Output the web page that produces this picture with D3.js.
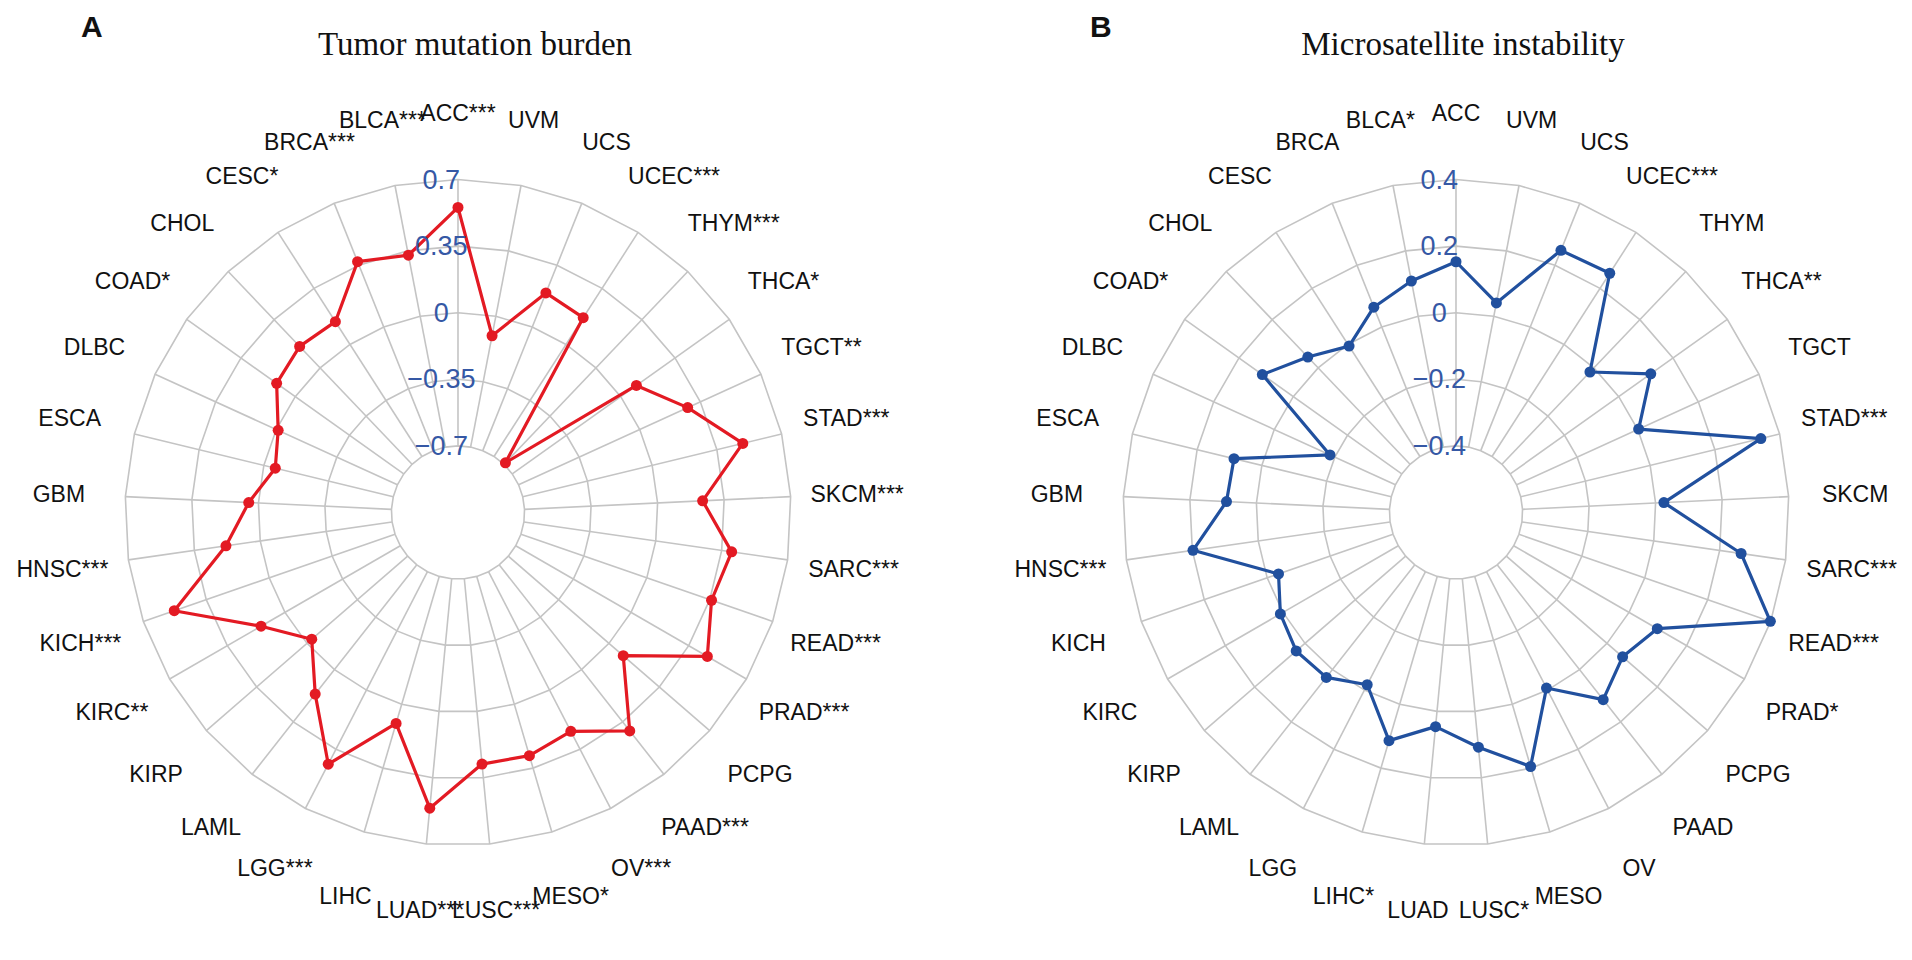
<!DOCTYPE html>
<html>
<head>
<meta charset="utf-8">
<script src="https://cdn.jsdelivr.net/npm/d3@7/dist/d3.min.js"></script>
<style>
  html, body { margin: 0; padding: 0; background: #ffffff; }
  svg { display: block; }
</style>
</head>
<body>
<svg id="chart" width="1912" height="960"></svg>
<script>
// ---- Data ----
const categories = ["ACC","BLCA","BRCA","CESC","CHOL","COAD","DLBC","ESCA","GBM","HNSC","KICH","KIRC","KIRP","LAML","LGG","LIHC","LUAD","LUSC","MESO","OV","PAAD","PCPG","PRAD","READ","SARC","SKCM","STAD","TGCT","THCA","THYM","UCEC","UCS","UVM"];

const tmbStars = ["***","***","***","*","","*","","","","***","***","**","","","***","","***","***","*","***","***","","***","***","***","***","***","**","*","***","***","",""];
const tmbValues = [0.553,0.327,0.370,0.142,0.156,0.120,-0.011,-0.062,0.051,0.182,0.528,0.145,-0.033,0.164,0.438,0.105,0.511,0.278,0.282,0.244,0.410,0.099,0.463,0.360,0.403,0.237,0.490,0.277,0.101,-0.689,0.167,0.193,-0.104];
const tmbTicks = [-0.7,-0.35,0,0.35,0.7];
const tmbTickLabels = ["\u22120.7","\u22120.35","0","0.35","0.7"];

const msiStars = ["","*","","","","*","","","","***","","","","","","*","","*","","","","","*","***","***","","***","","**","","***","",""];
const msiValues = [0.153,0.108,0.064,-0.006,0.045,0.114,-0.184,0.086,0.090,0.198,-0.036,0.009,0.035,0.030,-0.018,0.114,0.046,0.108,0.195,-0.007,0.115,0.062,0.098,0.399,0.265,0.025,0.342,0.003,0.118,-0.017,0.254,0.248,0.041];
const msiTicks = [-0.4,-0.2,0,0.2,0.4];
const msiTickLabels = ["\u22120.4","\u22120.2","0","0.2","0.4"];

// ---- Drawing ----
const svg = d3.select("#chart");
const R = 333;
const n = categories.length;

function radar(cfg) {
  const g = svg.append("g").attr("transform", `translate(${cfg.cx},${cfg.cy})`);
  const r = d3.scaleLinear().domain([cfg.ticks[0], cfg.ticks[cfg.ticks.length-1]]).range([R*0.2, R]);
  const a = d3.scaleLinear().domain([0, n]).range([0, -2*Math.PI]); // counter-clockwise from top
  const px = (ang, rad) => [Math.sin(ang)*rad, -Math.cos(ang)*rad];
  const idx = d3.range(n);

  // grid rings
  const ringLine = d3.lineRadial().angle(i => a(i)).curve(d3.curveLinearClosed);
  cfg.ticks.forEach(t => {
    g.append("path")
      .attr("d", ringLine.radius(() => r(t))(idx))
      .attr("fill", "none").attr("stroke", "#c4c4c4").attr("stroke-width", 1.6);
  });
  // spokes
  g.selectAll("line.spoke").data(idx).join("line")
    .attr("class", "spoke")
    .attr("x1", i => px(a(i), r.range()[0])[0]).attr("y1", i => px(a(i), r.range()[0])[1])
    .attr("x2", i => px(a(i), R)[0]).attr("y2", i => px(a(i), R)[1])
    .attr("stroke", "#c4c4c4").attr("stroke-width", 1.6);

  // data polygon
  const dataLine = d3.lineRadial().angle((d, i) => a(i)).radius(d => r(d)).curve(d3.curveLinearClosed);
  g.append("path").attr("d", dataLine(cfg.values))
    .attr("fill", "none").attr("stroke", cfg.color).attr("stroke-width", 3.2).attr("stroke-linejoin", "round");
  g.selectAll("circle.pt").data(cfg.values).join("circle")
    .attr("class", "pt")
    .attr("cx", (d, i) => px(a(i), r(d))[0]).attr("cy", (d, i) => px(a(i), r(d))[1])
    .attr("r", 5.5).attr("fill", cfg.color);

  // axis labels
  g.selectAll("text.tick").data(cfg.ticks).join("text")
    .attr("class", "tick")
    .attr("x", -0.05*R).attr("y", d => -r(d))
    .attr("text-anchor", "middle").attr("dominant-baseline", "central")
    .attr("font-family", "Liberation Sans, Arial, sans-serif").attr("font-size", 27)
    .attr("fill", "#3558a5")
    .text((d, i) => cfg.tickLabels[i]);

  // category labels
  g.selectAll("text.cat").data(idx).join("text")
    .attr("class", "cat")
    .attr("x", i => px(a(i), 1.2*R)[0]).attr("y", i => px(a(i), 1.2*R)[1])
    .attr("text-anchor", "middle").attr("dominant-baseline", "central")
    .attr("font-family", "Liberation Sans, Arial, sans-serif").attr("font-size", 23)
    .attr("fill", "#111111")
    .text(i => categories[i] + cfg.stars[i]);

  // title
  svg.append("text").attr("x", cfg.titleX).attr("y", 55)
    .attr("text-anchor", "middle")
    .attr("font-family", "Liberation Serif, Times New Roman, serif").attr("font-size", 33)
    .attr("fill", "#111111").text(cfg.title);
  // panel letter
  svg.append("text").attr("x", cfg.letterX).attr("y", 37)
    .attr("font-family", "Liberation Sans, Arial, sans-serif").attr("font-size", 30).attr("font-weight", "bold")
    .attr("fill", "#111111").text(cfg.letter);
}

radar({cx: 458, cy: 512.5, ticks: tmbTicks, tickLabels: tmbTickLabels, values: tmbValues, stars: tmbStars,
       color: "#e31a23", title: "Tumor mutation burden", titleX: 475, letter: "A", letterX: 81});
radar({cx: 1456, cy: 512.5, ticks: msiTicks, tickLabels: msiTickLabels, values: msiValues, stars: msiStars,
       color: "#21509e", title: "Microsatellite instability", titleX: 1463, letter: "B", letterX: 1090});
</script>
</body>
</html>
